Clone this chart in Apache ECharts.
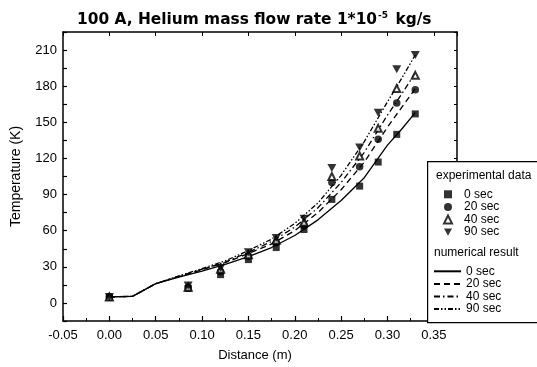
<!DOCTYPE html>
<html><head><meta charset="utf-8">
<script src="https://cdn.jsdelivr.net/npm/echarts@6/dist/echarts.min.js"></script>
<style>html,body{margin:0;padding:0;background:#fff}#c{width:537px;height:367px}</style>
</head><body><div id="c"></div>
<script>
// Experimental data (distance in m, temperature in K)
const expX = [0, 0.085, 0.12, 0.15, 0.18, 0.21, 0.24, 0.27, 0.29, 0.31, 0.33];
const exp0  = [4.5, 12, 23.5, 36, 46, 61, 86, 97, 117, 140, 157];
const exp20 = [5, 13, 26, 39, 50, 64, 100, 113, 136, 166, 177];
const exp40 = [5, 13, 28, 40, 52, 67, 105, 122, 145, 178, 189];
const exp90 = [5, 14.5, 29, 42, 54, 70, 112, 129, 158, 194, 206];
// Numerical results
const numX  = [0, 0.025, 0.05, 0.075, 0.1, 0.125, 0.15, 0.175, 0.2, 0.225, 0.25, 0.275, 0.3, 0.315, 0.33];
const num0  = [5, 5.5, 16, 21.5, 26.5, 32, 38.5, 46, 56, 69, 85, 104, 131, 144, 158];
const num20 = [5, 5.5, 16, 22, 27.5, 33.5, 41, 49, 60, 75, 94, 117, 146, 162, 178];
const num40 = [5, 5.5, 16, 22, 28, 34, 42, 51, 63, 79, 100, 125, 156, 173, 191];
const num90 = [5, 5.5, 16, 22.5, 28.5, 35, 43.5, 53, 66, 83, 106, 134, 167, 186, 206];
const legendLabels = {e0:'0 sec', e20:'20 sec', e40:'40 sec', e90:'90 sec', n0:'0 sec', n20:'20 sec', n40:'40 sec', n90:'90 sec'};

const FONT = '"Liberation Sans", Arial, sans-serif';
const TFONT = '"DejaVu Sans", "Liberation Sans", sans-serif';
const pair = (xs, ys) => xs.map((x, i) => [x, ys[i]]);
const downTri = 'path://M0,0 L10,0 L5,9 Z';

const chart = echarts.init(document.getElementById('c'), null, {renderer: 'canvas'});
const axisCommon = {
  axisLine: {show: true, onZero: false, lineStyle: {color: '#000', width: 1.5}},
  splitLine: {show: false}
};
const xFmt = v => (Math.abs(Math.round(v * 1000) % 50) === 0) ? v.toFixed(2) : '';
const yFmt = v => (Math.round(v) % 30 === 0) ? String(Math.round(v)) : '';

const scatter = (name, ys, symbol, size) => ({
  name, type: 'scatter', data: pair(expX, ys), symbol, symbolSize: size,
  itemStyle: {color: '#000', borderColor: '#000', borderWidth: symbol === 'emptyTriangle' ? 1.2 : 0},
  z: 5
});
const line = (name, ys, type) => ({
  name, type: 'line', data: pair(numX, ys), symbol: 'none', showSymbol: false, smooth: false,
  lineStyle: {color: '#000', width: 1.3, type},
  itemStyle: {color: '#000'},
  z: 4
});

chart.setOption({
  animation: false,
  backgroundColor: '#fff',
  title: {
    text: '{a|100 A, Helium mass flow rate 1*10}{s|-5}{a| kg/s}',
    left: 77, top: 11, padding: 0,
    textStyle: {rich: {
      a: {fontFamily: TFONT, fontWeight: 'bold', fontSize: 15.4, color: '#000'},
      s: {fontFamily: TFONT, fontWeight: 'bold', fontSize: 9, color: '#000', verticalAlign: 'top', padding: [0, 2, 9, 1]}
    }}
  },
  grid: {left: 63, top: 32, right: 80, bottom: 45, containLabel: false},
  xAxis: [{
    type: 'value', min: -0.05, max: 0.375, interval: 0.05,
    name: 'Distance (m)', nameLocation: 'middle', nameGap: 28,
    nameTextStyle: {fontFamily: FONT, fontSize: 13, color: '#000', padding: [0, 0, 0, -10]},
    axisLabel: {formatter: xFmt, fontFamily: FONT, fontSize: 13, color: '#000', margin: 8},
    axisTick: {inside: true, length: 5, lineStyle: {color: '#000', width: 1.2}},
    minorTick: {show: true, splitNumber: 2, length: 3, lineStyle: {color: '#000'}},
    ...axisCommon
  }, {
    type: 'value', position: 'top', min: -0.05, max: 0.375, interval: 0.05,
    axisLabel: {show: false},
    axisTick: {inside: true, length: 4, lineStyle: {color: '#000'}},
    ...axisCommon
  }],
  yAxis: [{
    type: 'value', min: -15, max: 225, interval: 15,
    name: 'Temperature (K)', nameLocation: 'middle', nameGap: 40, nameRotate: 90,
    nameTextStyle: {fontFamily: FONT, fontSize: 14, color: '#000'},
    axisLabel: {formatter: yFmt, fontFamily: FONT, fontSize: 13, color: '#000', margin: 6},
    axisTick: {inside: true, length: 4, lineStyle: {color: '#000', width: 1.2}},
    ...axisCommon
  }, {
    type: 'value', position: 'right', min: -15, max: 225, interval: 15,
    axisLabel: {show: false},
    axisTick: {inside: true, length: 3, lineStyle: {color: '#000'}},
    ...axisCommon
  }],
  legend: [{
    data: [
      {name: 'e0', icon: 'rect'}, {name: 'e20', icon: 'circle'},
      {name: 'e40', icon: 'emptyTriangle'}, {name: 'e90', icon: downTri}
    ],
    orient: 'vertical', left: 438, top: 183, itemWidth: 8, itemHeight: 8, itemGap: 0,
    formatter: n => legendLabels[n],
    textStyle: {fontFamily: FONT, fontSize: 12, color: '#000', lineHeight: 12.6, padding: [0, 0, 0, 7]},
    z: 20
  }, {
    data: ['n0', 'n20', 'n40', 'n90'],
    orient: 'vertical', left: 428, top: 260, itemWidth: 27, itemHeight: 8, itemGap: 0,
    formatter: n => legendLabels[n],
    itemStyle: {color: 'rgba(0,0,0,0)', borderColor: 'rgba(0,0,0,0)', borderWidth: 0},
    textStyle: {fontFamily: FONT, fontSize: 12, color: '#000', lineHeight: 12.6},
    z: 20
  }],
  graphic: [
    {type: 'rect', left: 427, top: 161, shape: {width: 120, height: 161},
     style: {fill: '#fff', stroke: '#000', lineWidth: 1.2}, z: 10},
    {type: 'text', left: 436, top: 170, style: {text: 'experimental data', font: '12px ' + FONT, fill: '#000'}, z: 11},
    {type: 'text', left: 434, top: 247, style: {text: 'numerical result', font: '12px ' + FONT, fill: '#000'}, z: 11}
  ],
  series: [
    line('n0', num0, 'solid'),
    line('n20', num20, [6, 4]),
    line('n40', num40, [6, 3, 1.5, 3]),
    line('n90', num90, [5, 2, 1.5, 2, 1.5, 2]),
    scatter('e0', exp0, 'rect', 7),
    scatter('e20', exp20, 'circle', 7.5),
    scatter('e40', exp40, 'emptyTriangle', 7),
    scatter('e90', exp90, downTri, [9, 8])
  ]
});
</script></body></html>
